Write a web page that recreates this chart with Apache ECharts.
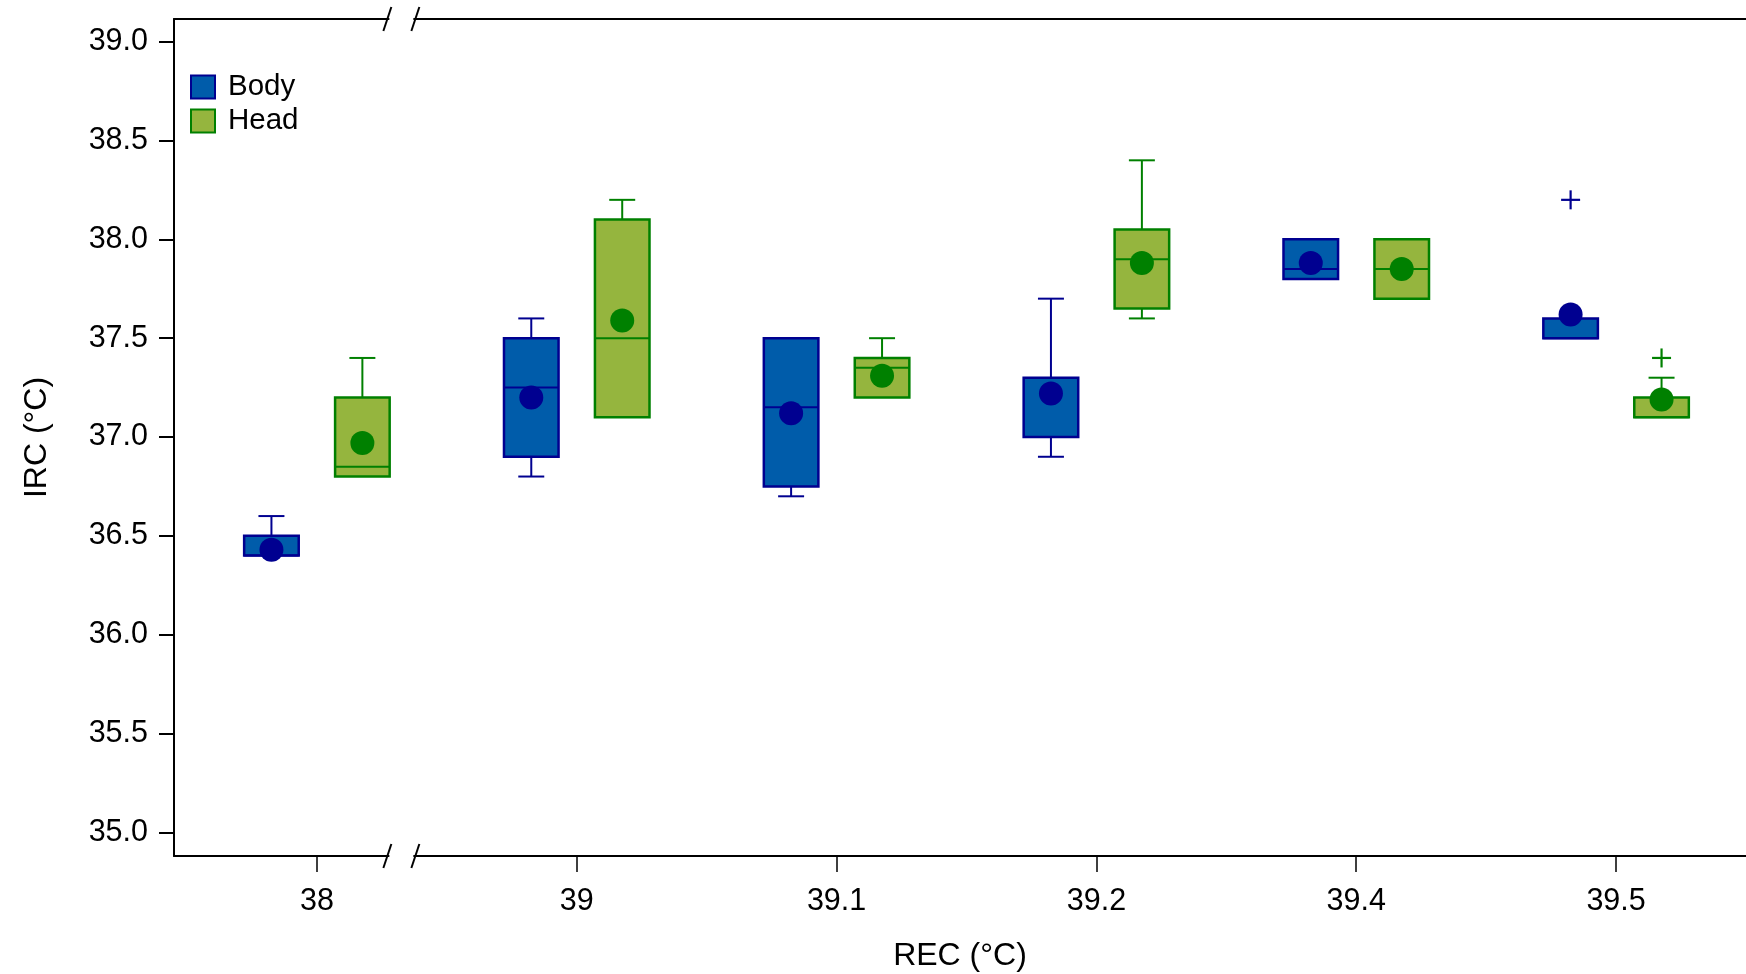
<!DOCTYPE html>
<html>
<head>
<meta charset="utf-8">
<script src="https://cdn.jsdelivr.net/npm/echarts@6/dist/echarts.min.js"></script>
<style>
html,body{margin:0;padding:0;background:#fff;}
#chart{width:1746px;height:974px;}
</style>
</head>
<body>
<div id="chart"></div>
<script>
// ---- data ----
const categories = ['38', '39', '39.1', '39.2', '39.4', '39.5'];
const yTicks = [35.0, 35.5, 36.0, 36.5, 37.0, 37.5, 38.0, 38.5, 39.0];

const bodyMin    = [36.4, 36.8, 36.7, 36.9, 37.8, 37.5];
const bodyQ1     = [36.4, 36.9, 36.75, 37.0, 37.8, 37.5];
const bodyMedian = [36.4, 37.25, 37.15, 37.0, 37.85, 37.5];
const bodyQ3     = [36.5, 37.5, 37.5, 37.3, 38.0, 37.6];
const bodyMax    = [36.6, 37.6, 37.5, 37.7, 38.0, 37.6];
const bodyMean   = [36.43, 37.2, 37.12, 37.22, 37.88, 37.62];
const bodyOutlierCat = [5];
const bodyOutlierVal = [38.2];

const headMin    = [36.8, 37.1, 37.2, 37.6, 37.7, 37.1];
const headQ1     = [36.8, 37.1, 37.2, 37.65, 37.7, 37.1];
const headMedian = [36.85, 37.5, 37.35, 37.9, 37.85, 37.1];
const headQ3     = [37.2, 38.1, 37.4, 38.05, 38.0, 37.2];
const headMax    = [37.4, 38.2, 37.5, 38.4, 38.0, 37.3];
const headMean   = [36.97, 37.59, 37.31, 37.88, 37.85, 37.19];
const headOutlierCat = [5];
const headOutlierVal = [37.4];

// ---- layout / style constants ----
const BODY_OFF = -0.175, HEAD_OFF = 0.175;
const BOX_W = 0.21, CAP_W = 0.1;
const X_MIN = -0.55, X_MAX = 5.5;
const Y_MIN = 34.88, Y_MAX = 39.115;
const BREAK_X = 0.325;
const FONT = "'Liberation Sans', Arimo, Arial, sans-serif";
const BODY_FILL = '#005CAA', BODY_STROKE = '#000090';
const HEAD_FILL = '#95B53E', HEAD_STROKE = '#008000';

function boxRender(fill, stroke) {
  return function (params, api) {
    const x = api.value(0);
    const lo = api.value(1), q1 = api.value(2), med = api.value(3), q3 = api.value(4), hi = api.value(5);
    const pQ1 = api.coord([x, q1]), pQ3 = api.coord([x, q3]);
    const pMed = api.coord([x, med]), pLo = api.coord([x, lo]), pHi = api.coord([x, hi]);
    const w = api.size([BOX_W, 0])[0];
    const cw = api.size([CAP_W, 0])[0];
    const cx = pQ1[0];
    const ls = { stroke: stroke, lineWidth: 2, fill: null };
    const ch = [];
    if (hi > q3) {
      ch.push({ type: 'line', shape: { x1: cx, y1: pQ3[1], x2: cx, y2: pHi[1] }, style: ls });
      ch.push({ type: 'line', shape: { x1: cx - cw / 2, y1: pHi[1], x2: cx + cw / 2, y2: pHi[1] }, style: ls });
    }
    if (lo < q1) {
      ch.push({ type: 'line', shape: { x1: cx, y1: pQ1[1], x2: cx, y2: pLo[1] }, style: ls });
      ch.push({ type: 'line', shape: { x1: cx - cw / 2, y1: pLo[1], x2: cx + cw / 2, y2: pLo[1] }, style: ls });
    }
    ch.push({ type: 'rect', shape: { x: cx - w / 2, y: pQ3[1], width: w, height: pQ1[1] - pQ3[1] },
      style: { fill: fill, stroke: stroke, lineWidth: 2.5 } });
    ch.push({ type: 'line', shape: { x1: cx - w / 2, y1: pMed[1], x2: cx + w / 2, y2: pMed[1] }, style: ls });
    return { type: 'group', children: ch };
  };
}

function plusRender(stroke) {
  return function (params, api) {
    const p = api.coord([api.value(0), api.value(1)]);
    const s = 9.5;
    const ls = { stroke: stroke, lineWidth: 2.2 };
    return { type: 'group', children: [
      { type: 'line', shape: { x1: p[0] - s, y1: p[1], x2: p[0] + s, y2: p[1] }, style: ls },
      { type: 'line', shape: { x1: p[0], y1: p[1] - s, x2: p[0], y2: p[1] + s }, style: ls }
    ] };
  };
}

function breakRender(params, api) {
  const ch = [];
  [Y_MIN, Y_MAX].forEach(function (yv) {
    const p = api.coord([api.value(0), yv]);
    ch.push({ type: 'rect', shape: { x: p[0] - 12, y: p[1] - 5, width: 24, height: 10 }, style: { fill: '#fff' } });
    [-14, 14].forEach(function (d) {
      ch.push({ type: 'line', shape: { x1: p[0] + d - 4, y1: p[1] + 12, x2: p[0] + d + 4, y2: p[1] - 12 },
        style: { stroke: '#000', lineWidth: 2 } });
    });
  });
  return { type: 'group', children: ch };
}

const bodyBoxes = bodyQ1.map((v, i) => [i + BODY_OFF, bodyMin[i], v, bodyMedian[i], bodyQ3[i], bodyMax[i]]);
const headBoxes = headQ1.map((v, i) => [i + HEAD_OFF, headMin[i], v, headMedian[i], headQ3[i], headMax[i]]);

const chart = echarts.init(document.getElementById('chart'));
chart.setOption({
  animation: false,
  backgroundColor: '#fff',
  textStyle: { fontFamily: FONT },
  grid: { left: 174, top: 19, right: 0, bottom: 118, outerBoundsMode: 'none', containLabel: false },
  legend: {
    orient: 'vertical', left: 190, top: 72, padding: 0,
    itemWidth: 24, itemHeight: 23, itemGap: 4,
    textStyle: { fontSize: 29.5, color: '#000', fontFamily: FONT, padding: [0, 0, 0, 8] },
    data: [
      { name: 'Body', icon: 'rect', itemStyle: { color: BODY_FILL, borderColor: BODY_STROKE, borderWidth: 2 } },
      { name: 'Head', icon: 'rect', itemStyle: { color: HEAD_FILL, borderColor: HEAD_STROKE, borderWidth: 2 } }
    ]
  },
  xAxis: [{
    type: 'value', min: X_MIN, max: X_MAX, position: 'bottom',
    name: 'REC (°C)', nameLocation: 'middle', nameGap: 84,
    nameTextStyle: { fontSize: 32, color: '#000', fontFamily: FONT },
    splitLine: { show: false },
    axisLine: { show: true, onZero: false, lineStyle: { color: '#000', width: 2 } },
    axisTick: { show: true, length: 16, lineStyle: { color: '#000', width: 1.5 }, customValues: categories.map((c, i) => i) },
    axisLabel: { fontSize: 30.5, color: '#000', margin: 30, fontFamily: FONT,
      customValues: categories.map((c, i) => i),
      formatter: v => categories[Math.round(v)] }
  }, {
    type: 'value', min: X_MIN, max: X_MAX, position: 'top',
    splitLine: { show: false },
    axisLine: { show: true, onZero: false, lineStyle: { color: '#000', width: 2 } },
    axisTick: { show: false }, axisLabel: { show: false }
  }],
  yAxis: {
    type: 'value', min: Y_MIN, max: Y_MAX,
    name: 'IRC (°C)', nameLocation: 'middle', nameGap: 121,
    nameTextStyle: { fontSize: 32, color: '#000', fontFamily: FONT },
    splitLine: { show: false },
    axisLine: { show: true, onZero: false, lineStyle: { color: '#000', width: 2 } },
    axisTick: { show: true, length: 15, lineStyle: { color: '#000', width: 2 }, customValues: yTicks },
    axisLabel: { fontSize: 30.5, color: '#000', margin: 26, fontFamily: FONT,
      customValues: yTicks, formatter: v => v.toFixed(1) }
  },
  series: [
    { name: 'Body', type: 'custom', renderItem: boxRender(BODY_FILL, BODY_STROKE), data: bodyBoxes,
      encode: { x: 0, y: [1, 2, 3, 4, 5] }, itemStyle: { color: BODY_FILL, borderColor: BODY_STROKE }, z: 3 },
    { name: 'Head', type: 'custom', renderItem: boxRender(HEAD_FILL, HEAD_STROKE), data: headBoxes,
      encode: { x: 0, y: [1, 2, 3, 4, 5] }, itemStyle: { color: HEAD_FILL, borderColor: HEAD_STROKE }, z: 3 },
    { name: 'Body mean', type: 'scatter', symbol: 'circle', symbolSize: 24, z: 5,
      itemStyle: { color: BODY_STROKE, opacity: 1 }, data: bodyMean.map((v, i) => [i + BODY_OFF, v]) },
    { name: 'Head mean', type: 'scatter', symbol: 'circle', symbolSize: 24, z: 5,
      itemStyle: { color: HEAD_STROKE, opacity: 1 }, data: headMean.map((v, i) => [i + HEAD_OFF, v]) },
    { name: 'Body outliers', type: 'custom', renderItem: plusRender(BODY_STROKE), z: 4,
      data: bodyOutlierCat.map((c, i) => [c + BODY_OFF, bodyOutlierVal[i]]) },
    { name: 'Head outliers', type: 'custom', renderItem: plusRender(HEAD_STROKE), z: 4,
      data: headOutlierCat.map((c, i) => [c + HEAD_OFF, headOutlierVal[i]]) },
    { name: 'break', type: 'custom', renderItem: breakRender, clip: false, silent: true, z: 10,
      data: [[BREAK_X]], encode: { x: 0 } }
  ]
});
</script>
</body>
</html>
